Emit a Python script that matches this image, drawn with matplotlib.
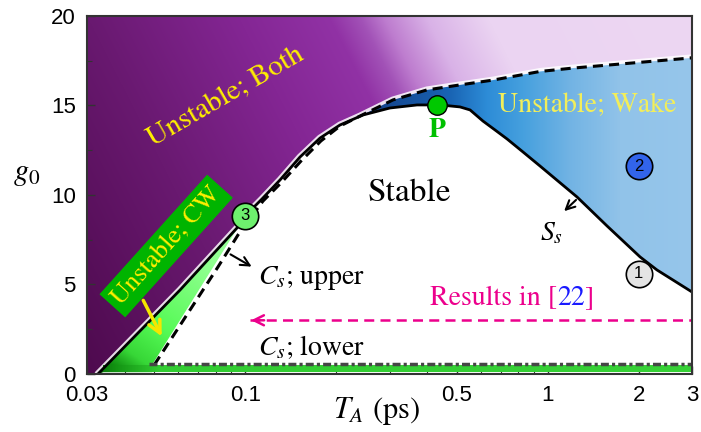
import numpy as np
import matplotlib.pyplot as plt
from matplotlib.patches import Polygon
from matplotlib.ticker import MultipleLocator, LogLocator, NullFormatter

plt.rcParams['mathtext.fontset'] = 'stix'
SERIF = 'STIXGeneral'
SANS = 'Liberation Sans'

# solid boundary (C_s upper on the left, S_s on the right)
ta_solid = [0.0326, 0.0609, 0.0940, 0.100, 0.1137, 0.1304, 0.1518, 0.1768, 0.2058,
            0.2453, 0.301, 0.370, 0.4407, 0.513, 0.554, 0.611, 0.670, 0.734, 0.829,
            0.943, 1.25, 1.571, 2.02, 2.298, 2.595, 3.0]
g_solid = [0.0, 4.69, 8.16, 8.83, 9.78, 10.84, 12.12, 13.18, 13.91,
           14.47, 14.86, 15.03, 15.03, 14.92, 14.75, 14.13, 13.63, 13.13, 12.40,
           11.62, 9.89, 8.27, 6.54, 5.81, 5.25, 4.58]

# dashed boundary
ta_dash = [0.050, 0.0531, 0.0813, 0.0947, 0.1145, 0.1313, 0.153, 0.178, 0.2058, 0.2397,
           0.308, 0.399, 0.513, 0.660, 0.943, 1.212, 2.955, 3.0]
g_dash = [0.5, 1.17, 5.98, 7.77, 9.66, 10.67, 11.90, 13.02, 13.85, 14.41,
          15.31, 15.87, 16.15, 16.42, 16.90, 17.09, 17.65, 17.68]

# right edge of the CW-unstable wedge
ta_cw = [0.100, 0.0492, 0.0492, 0.034]
g_cw = [8.83, 0.5, 0.1, 0.1]

# C_s lower (dash-dot) and the green strip under it
ta_lower = [0.048, 3.0]
g_lower = [0.55, 0.55]
ta_strip = [0.034, 3.0, 3.0, 0.034]
g_strip = [0.1, 0.1, 0.5, 0.5]

# results of [22]
ta_ref = [0.104, 3.0]
g_ref = [3.0, 3.0]

# labelled points
pts_ta = [0.1, 2.0, 2.0]
pts_g = [8.83, 11.6, 5.6]
pts_lab = ['3', '2', '1']
pts_col = ['#6ef06e', '#3264eb', '#e4e4e4']
p_ta, p_g = 0.43, 15.03

xticks = [0.03, 0.1, 0.5, 1, 2, 3]
xticklabels = ['0.03', '0.1', '0.5', '1', '2', '3']
yticks = [0, 5, 10, 15, 20]

fig = plt.figure(figsize=(7.01, 4.32), dpi=100)
ax = fig.add_axes([0.1241, 0.1343, 0.8631, 0.8287])
ax.set_xscale('log')
ax.set_xlim(0.03, 3)
ax.set_ylim(0, 20)
ax.set_autoscale_on(False)

yy, xx = np.mgrid[0:1:400j, 0:1:700j]


def shade(t, stops):
    pos = [p for p, _ in stops]
    cols = np.array([c for _, c in stops], dtype=float) / 255
    return np.dstack([np.interp(t, pos, cols[:, i]) for i in range(3)])


def region(verts, rgb, z):
    im = ax.imshow(rgb, extent=(0, 1, 0, 1), origin='lower', transform=ax.transAxes,
                   aspect='auto', interpolation='bilinear', zorder=z)
    im.set_clip_path(Polygon(verts, closed=True, transform=ax.transData))
    return im


sol = list(zip(ta_solid, g_solid))
dsh = list(zip(ta_dash, g_dash))

# purple: unstable for both directions
edge = [p for p in sol if p[0] <= 0.21] + [p for p in dsh if p[0] >= 0.239]
purple = edge + [(3, 20), (0.03, 20), (0.03, 0)]
region(purple, shade(xx + 0.3 * yy, [
    (0.0, (78, 10, 78)), (0.3, (105, 25, 112)), (0.55, (132, 38, 148)),
    (0.7, (145, 50, 165)), (0.75, (162, 82, 183)), (0.79, (190, 125, 207)),
    (0.86, (217, 178, 231)), (0.96, (235, 212, 242)), (1.3, (237, 215, 243))]), 1)

# white halo on the purple edge
ex, ey = zip(*edge)
ax.plot(ex, ey, color='white', lw=5, alpha=0.85, zorder=1.5, solid_capstyle='round')

# blue: wake unstable
blue = [p for p in sol if p[0] >= 0.245] + [p for p in dsh if p[0] >= 0.239][::-1]
region(blue, shade(xx, [
    (0.45, (20, 60, 130)), (0.6, (25, 100, 180)), (0.66, (45, 140, 215)),
    (0.72, (70, 160, 222)), (0.8, (115, 180, 228)), (0.88, (145, 195, 233)),
    (1.0, (150, 198, 235))]), 1.6)

# green: CW unstable wedge and strip
wedge = [p for p in sol if p[0] <= 0.1] + list(zip(ta_cw, g_cw))[1:]
region(wedge, shade(yy + 1.2 * (xx - 0.02), [
    (0.0, (0, 100, 0)), (0.05, (15, 140, 15)), (0.12, (55, 215, 55)),
    (0.25, (85, 250, 85)), (0.5, (140, 255, 140)), (0.8, (170, 255, 170))]), 1.6)
region(list(zip(ta_strip, g_strip)), shade(xx, [
    (0.0, (0, 100, 0)), (0.05, (20, 150, 20)), (0.12, (50, 205, 50)),
    (1.0, (55, 210, 55))]), 1.6)

# boundaries
ax.plot(ta_solid, g_solid, color='k', lw=2, zorder=4)
ax.plot(ta_dash, g_dash, color='k', lw=2.2, ls=(0, (3.3, 2)), zorder=4)
ax.plot(ta_lower, g_lower, color='#464646', lw=2.5, ls=(0, (2.3, 0.9, 0.9, 0.9)), zorder=4)

# results in [22]
ax.plot(ta_ref, g_ref, color='#ec008c', lw=1.8, ls=(0, (4, 2.5)), zorder=4)
ax.annotate('', xy=(ta_ref[0] * 0.985, g_ref[0]), xytext=(0.118, g_ref[0]),
            arrowprops=dict(arrowstyle='->', color='#ec008c', lw=1.8, mutation_scale=18),
            zorder=4)
t1 = ax.text(0.408, 4.2, 'Results in [', color='#ec008c', fontsize=20, family=SERIF,
             ha='left', va='center', zorder=6)
t2 = ax.annotate('22', xy=(1, 0), xycoords=t1, ha='left', va='bottom', color='#1a1aff',
                 fontsize=20, family=SERIF, zorder=6)
ax.annotate(']', xy=(1, 0), xycoords=t2, ha='left', va='bottom', color='#ec008c',
            fontsize=20, family=SERIF, zorder=6)

# region labels
ax.text(0.348, 10.1, 'Stable', fontsize=24, family=SERIF, ha='center', va='center', zorder=6)
ax.text(1.35, 15.0, 'Unstable; Wake', fontsize=20, family=SERIF, color='#f2ee5a',
        ha='center', va='center', zorder=6)
ax.text(0.0864, 15.5, 'Unstable; Both', fontsize=21, family=SERIF, color='#ffee00',
        rotation=30, rotation_mode='anchor', ha='center', va='center', zorder=6)
ax.text(0.0548, 7.15, 'Unstable; CW', fontsize=19, family=SERIF, color='#ffee00',
        rotation=48, rotation_mode='anchor', ha='center', va='center', zorder=6,
        bbox=dict(boxstyle='square,pad=0.2', fc='#00b400', ec='none'))
ax.annotate('', xy=(0.0535, 1.96), xytext=(0.0456, 4.25),
            arrowprops=dict(arrowstyle='->', color='#f5e600', lw=2.5, mutation_scale=22),
            zorder=6)

# curve labels
ax.annotate('', xy=(1.116, 8.99), xytext=(1.26, 9.83),
            arrowprops=dict(arrowstyle='->', color='k', lw=1.5, mutation_scale=16), zorder=6)
ax.text(1.03, 7.9, '$S_s$', fontsize=20, ha='center', va='center', zorder=6)
ax.annotate('', xy=(0.107, 5.92), xytext=(0.0878, 6.76),
            arrowprops=dict(arrowstyle='->', color='k', lw=1.5, mutation_scale=16), zorder=6)
ax.text(0.110, 5.36, '$C_s$; upper', fontsize=20, family=SERIF, ha='left', va='center', zorder=6)
ax.text(0.110, 1.5, '$C_s$; lower', fontsize=20, family=SERIF, ha='left', va='center', zorder=6)

# numbered points and P
for x, y, s, c in zip(pts_ta, pts_g, pts_lab, pts_col):
    ax.plot(x, y, 'o', ms=19, mfc=c, mec='k', mew=1.2, zorder=7)
    ax.text(x, y, s, fontsize=12, family=SANS, ha='center', va='center', zorder=8)
ax.plot(p_ta, p_g, 'o', ms=14, mfc='#00c800', mec='k', mew=1, zorder=7)
ax.text(p_ta, 13.6, 'P', fontsize=20, family=SERIF, weight='bold', color='#00c000',
        ha='center', va='center', zorder=6)

# axes
ax.set_xticks(xticks)
ax.set_xticklabels(xticklabels)
ax.xaxis.set_minor_locator(LogLocator(base=10, subs=np.arange(2, 10)))
ax.xaxis.set_minor_formatter(NullFormatter())
ax.set_yticks(yticks)
ax.yaxis.set_minor_locator(MultipleLocator(2.5))
ax.tick_params(which='both', direction='in', top=False, right=False, color='#333333')
ax.tick_params(which='major', length=6, width=1, pad=8, labelsize=16)
ax.tick_params(which='minor', length=3.5, width=0.8)
for lab in ax.get_xticklabels() + ax.get_yticklabels():
    lab.set_family(SANS)
for sp in ax.spines.values():
    sp.set_color('#333333')
    sp.set_linewidth(1.5)
    sp.set_zorder(10)

ax.set_xlabel('$T_A$ (ps)', fontsize=22, family=SERIF)
ax.xaxis.set_label_coords(0.478, -0.06)
ax.set_ylabel('$g_0$', fontsize=22, rotation=0)
ax.yaxis.set_label_coords(-0.1, 0.52)

fig.savefig('out.png', dpi=100)
